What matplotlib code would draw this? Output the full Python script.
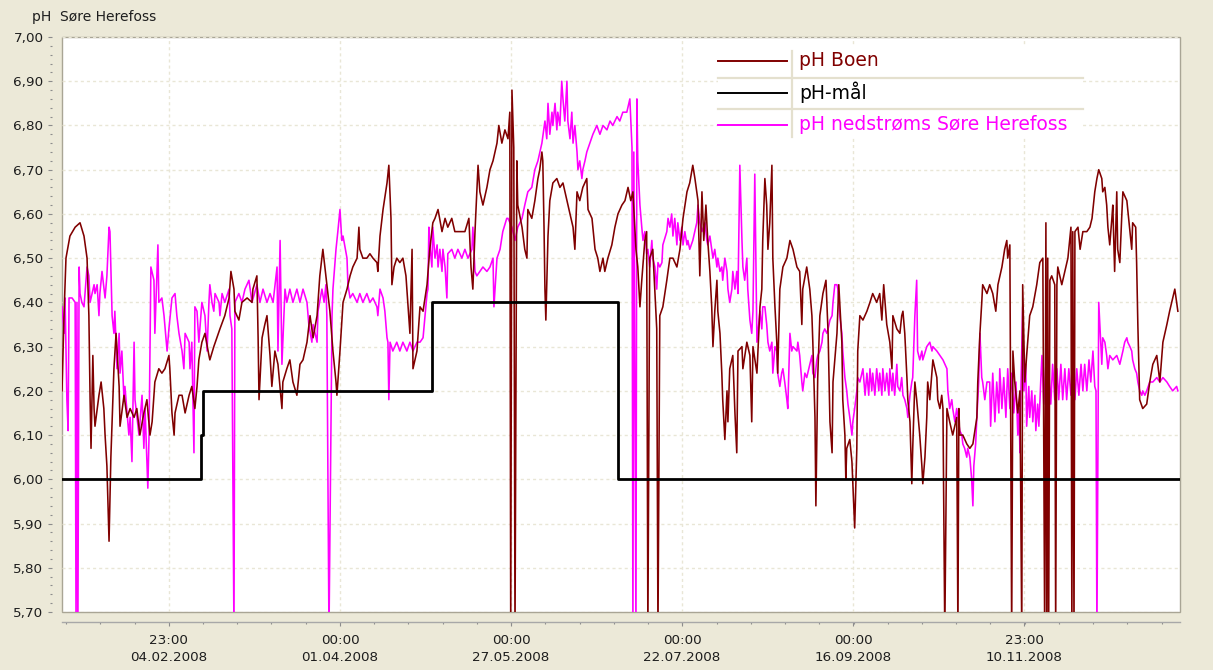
import numpy as np
import matplotlib
matplotlib.use('Agg')
import matplotlib.pyplot as plt
from matplotlib.lines import Line2D
from matplotlib.patches import Rectangle
from matplotlib.ticker import FixedLocator, FuncFormatter, MultipleLocator

plt.rcParams['font.family'] = ['DejaVu Sans']

# ---------------- data (day of year 2008 from 01.01.2008 00:00, pH) ----------------
boen = [
(0.0,6.20),(0.7,6.38),(1.3,6.50),(2.6,6.55),(4.3,6.57),(5.9,6.58),(7.2,6.55),(8.2,6.50),(8.8,6.37),(9.2,6.18),
(9.5,6.07),(10.1,6.28),(10.5,6.16),(10.8,6.12),(12.1,6.19),(12.8,6.22),(13.7,6.16),(14.1,6.10),(14.7,6.03),(15.4,5.86),
(16.0,6.05),(17.0,6.25),(17.7,6.33),(18.7,6.21),(19.0,6.12),(20.3,6.19),(21.3,6.14),(22.3,6.16),(23.6,6.14),(24.5,6.16),
(25.5,6.10),(26.8,6.15),(27.8,6.18),(28.8,6.10),(29.5,6.13),(30.4,6.22),(31.7,6.25),(32.7,6.24),(33.7,6.25),(35.0,6.28),
(35.3,6.25),(36.0,6.15),(36.7,6.10),(37.0,6.15),(38.3,6.19),(39.3,6.19),(40.3,6.15),(41.6,6.19),(42.5,6.21),(43.5,6.16),
(44.2,6.21),(44.8,6.27),(45.8,6.31),(46.8,6.33),(48.1,6.28),(48.4,6.27),(49.7,6.30),(50.7,6.32),(51.7,6.34),(53.3,6.37),
(54.7,6.41),(55.3,6.47),(56.3,6.43),(56.6,6.38),(57.9,6.36),(58.9,6.40),(60.6,6.41),(62.2,6.40),(62.5,6.43),(63.8,6.46),
(64.2,6.32),(64.5,6.18),(65.5,6.32),(66.4,6.35),(67.1,6.37),(68.1,6.28),(68.7,6.21),(69.7,6.29),(70.7,6.26),(72.0,6.16),
(72.3,6.22),(73.6,6.25),(74.6,6.27),(75.6,6.22),(76.9,6.19),(77.9,6.26),(78.9,6.27),(80.2,6.31),(81.2,6.37),(82.2,6.32),
(83.5,6.37),(84.4,6.46),(85.4,6.52),(86.7,6.44),(87.7,6.38),(88.7,6.29),(89.7,6.22),(90.0,6.19),(91.0,6.29),(92.0,6.40),
(93.3,6.43),(94.3,6.46),(95.2,6.48),(96.6,6.50),(97.2,6.57),(97.5,6.52),(98.5,6.50),(99.8,6.50),(100.8,6.51),(101.8,6.50),
(103.1,6.49),(103.4,6.47),(104.1,6.55),(105.1,6.61),(106.4,6.67),(107.0,6.71),(107.7,6.59),(108.0,6.44),(108.7,6.48),(109.6,6.50),
(110.6,6.49),(111.6,6.50),(112.6,6.46),(113.2,6.40),(113.9,6.33),(114.6,6.52),(114.9,6.25),(116.2,6.29),(117.2,6.39),(118.2,6.38),
(119.5,6.44),(120.4,6.52),(121.4,6.58),(122.1,6.59),(123.1,6.61),(124.4,6.56),(125.4,6.59),(126.3,6.57),(127.6,6.59),(128.6,6.56),
(129.6,6.56),(130.9,6.56),(131.9,6.56),(133.2,6.59),(133.9,6.48),(134.5,6.43),(135.2,6.56),(136.2,6.71),(136.8,6.65),(137.8,6.62),
(139.1,6.66),(140.1,6.70),(141.1,6.72),(142.4,6.76),(143.0,6.80),(144.0,6.76),(145.0,6.79),(146.0,6.77),(146.6,6.83),(146.9,5.65),
(147.3,6.88),(147.9,6.75),(148.3,5.65),(148.9,6.72),(149.2,6.62),(150.6,6.57),(151.5,6.52),(152.2,6.50),(152.5,6.61),(153.8,6.59),
(154.8,6.63),(155.8,6.68),(156.4,6.70),(157.1,6.74),(157.4,6.72),(157.8,6.57),(158.1,6.43),(158.4,6.36),(159.1,6.55),(159.7,6.63),
(160.7,6.67),(162.0,6.68),(163.0,6.66),(164.0,6.67),(165.3,6.63),(166.3,6.60),(167.3,6.57),(167.9,6.52),(168.6,6.65),(169.5,6.63),
(170.5,6.66),(171.8,6.68),(172.2,6.61),(173.5,6.59),(174.5,6.52),(175.4,6.50),(176.1,6.47),(177.1,6.50),(177.7,6.47),(178.7,6.50),
(180.0,6.53),(181.0,6.57),(182.0,6.60),(183.3,6.62),(184.3,6.63),(185.3,6.66),(186.2,6.63),(186.9,6.65),(187.9,6.52),(188.5,6.48),
(189.2,6.39),(189.8,6.45),(190.8,6.54),(191.4,6.56),(191.8,5.65),(192.4,6.50),(193.4,6.52),(194.7,6.34),(195.1,5.65),(195.7,6.37),
(196.7,6.39),(198.0,6.45),(199.0,6.50),(200.0,6.50),(201.3,6.48),(202.3,6.52),(203.3,6.59),(204.6,6.65),(205.5,6.67),(206.5,6.71),
(207.2,6.68),(208.2,6.63),(208.8,6.46),(209.5,6.65),(210.1,6.54),(210.8,6.62),(211.4,6.54),(212.1,6.47),(212.7,6.39),(213.1,6.30),
(213.7,6.38),(214.4,6.45),(214.7,6.38),(215.4,6.33),(216.0,6.24),(216.3,6.18),(217.0,6.09),(217.7,6.20),(218.0,6.13),(218.6,6.25),
(219.6,6.28),(220.3,6.15),(220.9,6.06),(221.3,6.29),(222.6,6.30),(222.9,6.25),(224.2,6.31),(225.2,6.28),(225.8,6.13),(226.2,6.30),
(227.5,6.24),(228.5,6.39),(229.1,6.43),(229.4,6.54),(230.1,6.68),(230.7,6.62),(231.1,6.52),(231.7,6.58),(232.4,6.71),(232.7,6.50),
(233.4,6.39),(234.0,6.31),(234.3,6.24),(235.0,6.43),(236.0,6.48),(237.3,6.50),(238.3,6.54),(239.3,6.52),(240.6,6.48),(241.5,6.47),
(242.2,6.35),(242.5,6.43),(243.8,6.48),(244.8,6.43),(245.5,6.37),(245.8,6.31),(246.5,6.14),(246.8,5.94),(247.4,6.23),(248.1,6.37),
(249.1,6.42),(250.1,6.45),(250.8,6.33),(251.4,6.13),(252.1,6.06),(252.4,6.22),(253.7,6.33),(254.3,6.44),(255.3,6.31),(255.6,6.18),
(256.3,6.10),(256.6,6.00),(256.9,6.07),(257.9,6.09),(258.6,6.04),(258.9,5.99),(259.5,5.89),(260.2,6.07),(260.5,6.29),(261.2,6.37),
(262.2,6.36),(263.5,6.38),(264.5,6.40),(265.4,6.42),(266.7,6.40),(267.7,6.42),(268.4,6.36),(269.0,6.44),(270.0,6.35),(271.0,6.31),
(271.7,6.25),(272.0,6.37),(273.3,6.34),(274.3,6.33),(274.9,6.37),(275.3,6.38),(275.9,6.33),(276.6,6.23),(276.9,6.18),(277.6,6.13),
(278.2,5.99),(278.5,6.07),(279.2,6.22),(279.8,6.18),(280.8,6.10),(281.5,6.03),(281.8,5.99),(282.5,6.05),(283.1,6.14),(283.4,6.22),
(284.1,6.18),(285.1,6.27),(286.4,6.23),(286.7,6.18),(287.4,6.16),(288.0,6.19),(288.4,6.16),(289.0,5.65),(289.7,6.16),(290.6,6.13),
(291.6,6.10),(292.9,6.14),(293.3,5.65),(293.6,6.16),(293.9,6.10),(294.9,6.10),(296.2,6.08),(297.2,6.07),(298.2,6.08),(299.5,6.14),
(299.8,6.22),(300.5,6.33),(301.1,6.40),(301.4,6.44),(302.8,6.42),(303.7,6.44),(304.7,6.42),(305.7,6.38),(306.4,6.44),(307.7,6.48),
(308.6,6.52),(309.3,6.54),(309.6,6.50),(310.3,6.53),(310.9,5.65),(311.3,6.29),(311.9,6.22),(312.9,6.15),(313.6,6.20),(314.2,5.65),
(314.5,6.44),(315.2,6.22),(315.8,6.28),(316.8,6.37),(317.8,6.39),(319.1,6.44),(320.1,6.49),(321.1,6.50),(321.7,5.65),(322.1,6.58),
(322.4,5.65),(322.7,6.50),(323.0,5.65),(323.4,6.45),(324.0,6.46),(325.0,6.44),(325.3,5.65),(325.7,6.44),(326.0,6.48),(327.3,6.44),
(328.3,6.47),(329.3,6.50),(330.3,6.57),(330.6,5.65),(330.9,6.56),(331.3,5.65),(331.6,6.56),(332.6,6.57),(333.3,6.52),(334.2,6.56),
(335.5,6.56),(336.5,6.57),(337.2,6.59),(338.1,6.65),(338.8,6.68),(339.4,6.70),(340.4,6.68),(340.7,6.65),(341.4,6.66),(342.0,6.62),
(342.4,6.57),(343.0,6.53),(343.7,6.59),(344.0,6.62),(344.6,6.47),(345.3,6.65),(345.6,6.52),(346.3,6.49),(346.9,6.59),(347.3,6.65),
(348.6,6.63),(349.6,6.56),(350.2,6.52),(350.5,6.58),(351.5,6.57),(351.8,6.49),(352.2,6.35),(352.8,6.18),(353.8,6.16),(355.1,6.17),
(356.1,6.22),(357.1,6.26),(358.4,6.28),(359.4,6.22),(360.4,6.31),(361.7,6.35),(362.6,6.38),(363.6,6.41),(364.3,6.43),(364.9,6.40),
(365.3,6.38),
]

nedstroms = [
(0.0,6.39),(0.7,6.33),(1.0,6.41),(1.6,6.18),(2.0,6.11),(2.3,6.41),(3.3,6.41),(4.3,6.40),(4.6,5.65),(4.9,6.40),
(5.2,5.65),(5.6,6.48),(5.9,6.42),(6.5,6.40),(7.2,6.39),(8.2,6.48),(8.8,6.46),(9.2,6.40),(10.5,6.44),(10.8,6.42),
(11.5,6.44),(12.1,6.37),(12.4,6.42),(13.1,6.47),(14.1,6.41),(14.7,6.46),(15.4,6.57),(15.7,6.56),(16.4,6.37),(17.0,6.33),
(17.3,6.38),(18.0,6.25),(18.7,6.33),(19.0,6.24),(19.6,6.29),(20.3,6.18),(20.6,6.21),(21.9,6.10),(22.3,6.14),(22.9,6.04),
(23.6,6.31),(23.9,6.18),(25.2,6.10),(26.2,6.19),(26.8,6.07),(27.2,6.16),(28.1,5.98),(28.5,6.10),(29.1,6.48),(30.1,6.45),
(30.4,6.33),(31.4,6.53),(31.7,6.40),(32.7,6.41),(33.4,6.37),(34.4,6.29),(35.0,6.34),(36.0,6.41),(37.0,6.42),(37.6,6.37),
(38.3,6.33),(39.3,6.29),(39.9,6.25),(40.3,6.33),(41.6,6.31),(41.9,6.25),(42.5,6.31),(43.2,6.06),(43.5,6.39),(44.2,6.38),
(44.8,6.31),(45.8,6.40),(46.8,6.37),(47.5,6.29),(48.1,6.40),(48.4,6.44),(49.1,6.40),(49.7,6.38),(50.1,6.42),(51.4,6.40),
(51.7,6.37),(52.4,6.42),(53.3,6.40),(54.7,6.43),(55.0,6.37),(55.6,6.34),(56.3,5.65),(56.6,6.40),(57.9,6.42),(58.9,6.40),
(59.9,6.43),(61.2,6.45),(62.2,6.40),(63.8,6.44),(64.8,6.40),(65.8,6.43),(67.1,6.40),(68.1,6.42),(69.1,6.40),(70.4,6.48),
(70.7,6.29),(71.4,6.54),(72.0,6.26),(72.3,6.31),(73.0,6.43),(73.6,6.40),(74.6,6.43),(75.6,6.40),(76.9,6.43),(77.9,6.40),
(78.9,6.43),(80.2,6.40),(80.8,6.35),(81.8,6.31),(82.2,6.35),(83.5,6.31),(83.8,6.38),(85.1,6.43),(85.8,6.40),(86.4,6.44),
(86.7,6.37),(87.4,5.65),(88.4,6.37),(88.7,6.43),(89.7,6.52),(90.3,6.56),(91.0,6.61),(91.6,6.54),(92.0,6.55),(93.3,6.50),
(93.6,6.44),(94.3,6.41),(95.2,6.42),(96.6,6.40),(97.5,6.42),(98.5,6.40),(99.8,6.42),(100.8,6.40),(101.8,6.41),(103.1,6.39),
(103.4,6.37),(104.1,6.43),(105.1,6.41),(105.7,6.38),(106.4,6.32),(106.7,6.31),(107.0,6.18),(107.4,6.31),(108.3,6.29),(109.6,6.31),
(110.6,6.29),(111.6,6.31),(112.9,6.29),(113.9,6.31),(114.9,6.29),(116.2,6.31),(117.2,6.31),(118.2,6.32),(119.5,6.42),(119.8,6.43),
(120.1,6.57),(120.4,6.53),(121.1,6.48),(121.4,6.57),(122.1,6.50),(122.8,6.53),(123.1,6.48),(123.7,6.52),(124.4,6.47),(124.7,6.52),
(125.4,6.48),(126.0,6.41),(126.3,6.51),(127.6,6.52),(128.6,6.50),(129.6,6.52),(130.9,6.50),(131.9,6.52),(132.9,6.50),(134.2,6.52),
(134.5,6.57),(135.2,6.47),(135.8,6.46),(136.8,6.47),(137.8,6.48),(139.1,6.47),(140.1,6.48),(141.1,6.50),(141.4,6.39),(142.4,6.50),
(143.4,6.52),(144.3,6.56),(145.6,6.59),(146.0,6.59),(147.3,6.57),(148.3,6.54),(149.2,6.57),(150.6,6.59),(151.5,6.62),(152.5,6.65),
(153.8,6.66),(154.8,6.70),(155.8,6.72),(157.1,6.76),(158.1,6.81),(158.7,6.77),(159.1,6.85),(159.7,6.78),(160.4,6.83),(160.7,6.80),
(161.4,6.85),(162.0,6.79),(162.3,6.83),(163.0,6.80),(163.6,6.90),(164.0,6.86),(164.6,6.81),(165.3,6.90),(165.6,6.81),(166.3,6.77),
(166.9,6.83),(167.3,6.76),(167.9,6.80),(168.6,6.74),(168.9,6.70),(169.5,6.72),(170.2,6.68),(170.5,6.70),(171.2,6.72),(171.8,6.74),
(172.8,6.76),(173.8,6.78),(175.1,6.80),(176.1,6.78),(177.1,6.80),(178.4,6.79),(179.4,6.81),(180.3,6.80),(181.7,6.82),(182.6,6.81),
(183.6,6.83),(184.9,6.83),(185.9,6.86),(186.6,6.75),(186.9,5.65),(187.2,6.74),(187.9,5.65),(188.2,6.86),(188.5,6.72),(189.2,6.62),
(189.8,6.57),(190.2,6.54),(190.8,6.56),(191.4,6.51),(191.8,6.52),(192.4,6.48),(193.1,6.54),(193.4,6.50),(194.1,6.48),(194.7,6.43),
(195.1,6.49),(195.7,6.48),(196.4,6.49),(196.7,6.53),(198.0,6.56),(198.4,6.59),(199.0,6.57),(199.6,6.60),(200.0,6.55),(200.6,6.59),
(201.3,6.53),(201.6,6.58),(202.3,6.54),(202.9,6.57),(203.3,6.53),(203.9,6.56),(204.6,6.53),(204.9,6.54),(205.5,6.52),(206.5,6.54),
(207.8,6.58),(208.2,6.62),(208.8,6.58),(209.5,6.56),(210.5,6.58),(211.1,6.54),(211.4,6.53),(212.1,6.55),(213.1,6.50),(213.7,6.52),
(214.4,6.48),(214.7,6.50),(215.4,6.47),(216.0,6.48),(216.3,6.45),(217.0,6.50),(217.7,6.47),(218.0,6.43),(218.6,6.40),(219.3,6.43),
(219.6,6.47),(220.3,6.43),(220.9,6.47),(221.3,6.42),(221.9,6.71),(222.6,6.54),(222.9,6.48),(223.5,6.45),(224.2,6.50),(224.5,6.43),
(225.2,6.36),(225.8,6.33),(226.2,6.38),(226.8,6.69),(227.2,6.47),(227.5,6.31),(228.5,6.38),(229.1,6.34),(229.4,6.39),(230.1,6.39),
(230.7,6.35),(231.1,6.31),(231.7,6.29),(232.4,6.31),(232.7,6.24),(233.4,6.30),(234.0,6.29),(234.3,6.24),(235.0,6.21),(235.6,6.24),
(236.0,6.25),(236.6,6.22),(237.3,6.18),(237.6,6.16),(238.3,6.33),(238.9,6.29),(239.3,6.30),(240.6,6.29),(240.9,6.31),(241.5,6.28),
(242.2,6.22),(242.5,6.20),(243.2,6.24),(243.8,6.23),(244.8,6.26),(245.5,6.28),(245.8,6.24),(246.5,6.23),(247.1,6.27),(247.4,6.28),
(248.1,6.29),(248.8,6.31),(249.1,6.33),(249.7,6.34),(250.4,6.33),(250.8,6.34),(251.4,6.36),(252.1,6.37),(252.4,6.40),(253.0,6.44),
(253.7,6.44),(254.0,6.43),(254.6,6.37),(255.3,6.33),(255.6,6.29),(256.3,6.23),(256.9,6.20),(257.3,6.17),(257.9,6.14),(258.6,6.10),
(258.9,6.13),(259.5,6.16),(260.2,6.20),(260.5,6.23),(261.2,6.22),(262.2,6.25),(262.9,6.19),(263.5,6.24),(264.1,6.19),(264.5,6.25),
(265.1,6.20),(265.4,6.24),(266.1,6.19),(266.7,6.25),(267.4,6.20),(267.7,6.24),(268.4,6.19),(268.7,6.25),(269.4,6.20),(270.0,6.24),
(270.7,6.19),(271.0,6.25),(271.7,6.20),(272.0,6.24),(272.6,6.19),(273.3,6.26),(273.6,6.21),(274.3,6.20),(274.9,6.23),(275.3,6.19),
(275.9,6.18),(276.6,6.16),(276.9,6.14),(277.6,6.19),(278.2,6.22),(278.5,6.23),(279.2,6.37),(279.8,6.45),(280.1,6.29),(280.8,6.27),
(281.5,6.29),(281.8,6.27),(283.1,6.30),(284.1,6.31),(284.8,6.29),(285.1,6.30),(286.4,6.29),(287.4,6.28),(288.4,6.27),(289.7,6.25),
(290.0,6.20),(290.6,6.16),(291.3,6.18),(291.6,6.16),(292.3,6.13),(292.9,6.16),(293.3,6.14),(293.9,6.11),(294.6,6.10),(294.9,6.08),
(295.5,6.07),(296.2,6.05),(296.5,6.07),(297.2,6.05),(297.8,6.00),(298.2,5.94),(298.5,6.03),(299.1,6.08),(299.5,6.14),(300.1,6.22),
(300.5,6.33),(301.1,6.23),(301.4,6.22),(302.1,6.18),(302.8,6.22),
(303.7,6.22),(304.0,6.12),(304.7,6.24),(305.4,6.13),(306.0,6.22),(306.7,6.15),(307.0,6.25),(307.7,6.16),(308.3,6.23),(309.0,6.14),
(309.6,6.25),(310.3,6.16),(310.9,6.24),(311.6,6.15),(312.3,6.22),(312.9,6.10),(313.3,6.16),(313.6,6.06),(313.9,6.20),(314.5,6.39),
(314.9,6.20),(315.5,6.26),(315.8,6.12),(316.5,6.21),(316.8,6.14),(317.5,6.20),(317.8,6.13),(318.5,6.19),(318.8,6.11),(319.4,6.17),
(319.8,6.12),(320.4,6.22),(320.8,6.28),(321.4,6.17),(322.1,6.26),(322.4,6.18),(323.0,6.25),(323.7,6.17),(324.3,6.26),(325.0,6.18),
(325.7,6.25),(326.3,6.18),(327.0,6.26),(327.6,6.18),(328.3,6.25),(328.9,6.18),(329.6,6.25),(330.3,6.19),(330.9,6.25),(331.6,6.18),
(332.2,6.25),(332.9,6.19),(333.6,6.26),(334.2,6.20),(334.8,6.26),(335.5,6.20),(336.2,6.27),(336.8,6.22),(337.5,6.29),(338.1,6.21),
(338.5,6.20),(338.8,5.65),(339.4,6.40),(340.4,6.26),(340.7,6.32),(341.4,6.31),(342.0,6.28),(342.4,6.25),(343.0,6.28),(344.0,6.27),
(345.3,6.28),(346.3,6.26),(347.3,6.29),(347.9,6.31),(348.6,6.32),(348.9,6.31),(349.6,6.30),(350.2,6.29),(350.5,6.27),(351.2,6.25),
(351.8,6.24),(352.2,6.22),(352.8,6.20),(353.5,6.19),(353.8,6.20),(354.5,6.19),(355.1,6.20),(356.1,6.22),(357.1,6.22),(358.4,6.23),
(359.4,6.22),(360.4,6.23),(361.7,6.22),(362.6,6.21),(363.6,6.20),(364.9,6.21),(365.3,6.20),
]

maal_dates = ['2008-01-01T00:00', '2008-02-15T12:00', '2008-02-16T00:00',
              '2008-05-01T00:00', '2008-07-01T00:00', '2009-01-01T00:00']
maal_ph = [6.00, 6.10, 6.20, 6.40, 6.00, 6.00]

major_tick_dates = ['2008-02-04T23:00', '2008-04-01T00:00', '2008-05-27T00:00',
                    '2008-07-22T00:00', '2008-09-16T00:00', '2008-11-10T23:00']
tick_labels = ['23:00\n04.02.2008', '00:00\n01.04.2008', '00:00\n27.05.2008',
               '00:00\n22.07.2008', '00:00\n16.09.2008', '23:00\n10.11.2008']

series_names = ['pH Boen', 'pH-mål', 'pH nedstrøms Søre Herefoss']
series_colors = ['#800000', '#000000', '#FF00FF']

y_min, y_max = 5.70, 7.00
title = 'pH  Søre Herefoss'

# ---------------- helpers ----------------
T0 = np.datetime64('2008-01-01T00:00')


def to_dates(days):
    return T0 + np.round(np.asarray(days) * 1440).astype('timedelta64[m]')


boen_day, boen_ph = zip(*boen)
ned_day, ned_ph = zip(*nedstroms)

# ---------------- figure ----------------
W, H = 1213, 670
fig = plt.figure(figsize=(W / 100, H / 100), dpi=100, facecolor='#ECE9D8')
ax = fig.add_axes([62 / W, 1 - 612 / H, 1118 / W, 575 / H])
ax.set_facecolor('white')
ax.patch.set_edgecolor('#A9A595')
ax.patch.set_linewidth(1.0)

grid_col = '#E9E6D6'
ax.set_axisbelow(True)

ax.plot(to_dates(ned_day), ned_ph, color=series_colors[2], lw=1.15, zorder=3)
ax.plot(to_dates(boen_day), boen_ph, color=series_colors[0], lw=1.15, zorder=4)
ax.plot(np.array(maal_dates, dtype='datetime64[m]'), maal_ph, color=series_colors[1],
        lw=2.0, drawstyle='steps-post', zorder=5)

ax.set_xlim(np.datetime64('2008-01-01T00:00'), np.datetime64('2009-01-01T00:00'))
ax.set_ylim(y_min, y_max)

# ticks
import matplotlib.dates as mdates
major_pos = mdates.date2num(np.array(major_tick_dates, dtype='datetime64[m]'))
ax.xaxis.set_major_locator(FixedLocator(major_pos))
ax.set_xticklabels(tick_labels)
step = (major_pos[1] - major_pos[0]) / 5.0
xl = ax.get_xlim()
minor = major_pos[0] + step * np.arange(-6, 40)
minor = minor[(minor >= xl[0]) & (minor <= xl[1])]
ax.xaxis.set_minor_locator(FixedLocator(minor))

ax.yaxis.set_major_locator(MultipleLocator(0.10))
ax.yaxis.set_minor_locator(MultipleLocator(0.02))
ax.yaxis.set_major_formatter(FuncFormatter(lambda v, p: f'{v:.2f}'.replace('.', ',')))

for s in ['top', 'right']:
    ax.spines[s].set_visible(False)
ax.spines['left'].set_position(('outward', 7.2))
ax.spines['left'].set_color('none')
ax.spines['bottom'].set_position(('outward', 7.2))
ax.spines['bottom'].set_color('#A8A8A8')
ax.spines['bottom'].set_linewidth(1.0)

tick_col = '#8C8C8C'
ax.tick_params(axis='y', which='major', length=3.2, width=0.8, color=tick_col,
               labelsize=9.7, labelcolor='#1E1E1E', pad=3.0)
ax.tick_params(axis='y', which='minor', length=1.6, width=0.8, color=tick_col)
ax.tick_params(axis='x', which='major', length=3.0, width=0.8, color=tick_col,
               labelsize=9.7, labelcolor='#1E1E1E', pad=6.0)
ax.tick_params(axis='x', which='minor', length=1.6, width=0.8, color=tick_col)
for lab in ax.get_xticklabels():
    lab.set_linespacing(1.35)

ax.grid(True, which='major', color=grid_col, linestyle=(0, (2.2, 2.2)), linewidth=1.0)

# ---------------- legend (custom, drawn in axes coordinates) ----------------
lx0, lx1 = (718 - 62) / 1118, (1083 - 62) / 1118
ltop, lbot = (612 - 46) / 575, (612 - 138) / 575
ax.add_patch(Rectangle((lx0, lbot), lx1 - lx0, ltop - lbot, transform=ax.transAxes,
                       facecolor='white', edgecolor='none', zorder=10))
row_y = [(612 - 60.5) / 575, (612 - 92.5) / 575, (612 - 124.5) / 575]
sep_y = [(612 - 78) / 575, (612 - 109) / 575]
sample_x0, sample_x1 = lx0, (787 - 62) / 1118
vsep_x = (792 - 62) / 1118
text_x = (799 - 62) / 1118
sep_col = '#E4E0CE'
for yy in sep_y:
    ax.add_line(Line2D([lx0, lx1], [yy, yy], transform=ax.transAxes, color=sep_col,
                       lw=1.6, zorder=11))
ax.add_line(Line2D([vsep_x, vsep_x], [lbot + 0.002, ltop - 0.008], transform=ax.transAxes,
                   color=sep_col, lw=1.6, zorder=11))
for name, col, yy in zip(series_names, series_colors, row_y):
    ax.add_line(Line2D([sample_x0, sample_x1], [yy, yy], transform=ax.transAxes,
                       color=col, lw=1.4, zorder=12))
    ax.text(text_x, yy, name, transform=ax.transAxes, color=col, fontsize=13.5,
            va='center', ha='left', zorder=12)

fig.text(32 / W, 1 - 17 / H, title, fontsize=10, color='#1E1E1E', ha='left', va='center')

fig.savefig('out.png', dpi=100, facecolor=fig.get_facecolor())
